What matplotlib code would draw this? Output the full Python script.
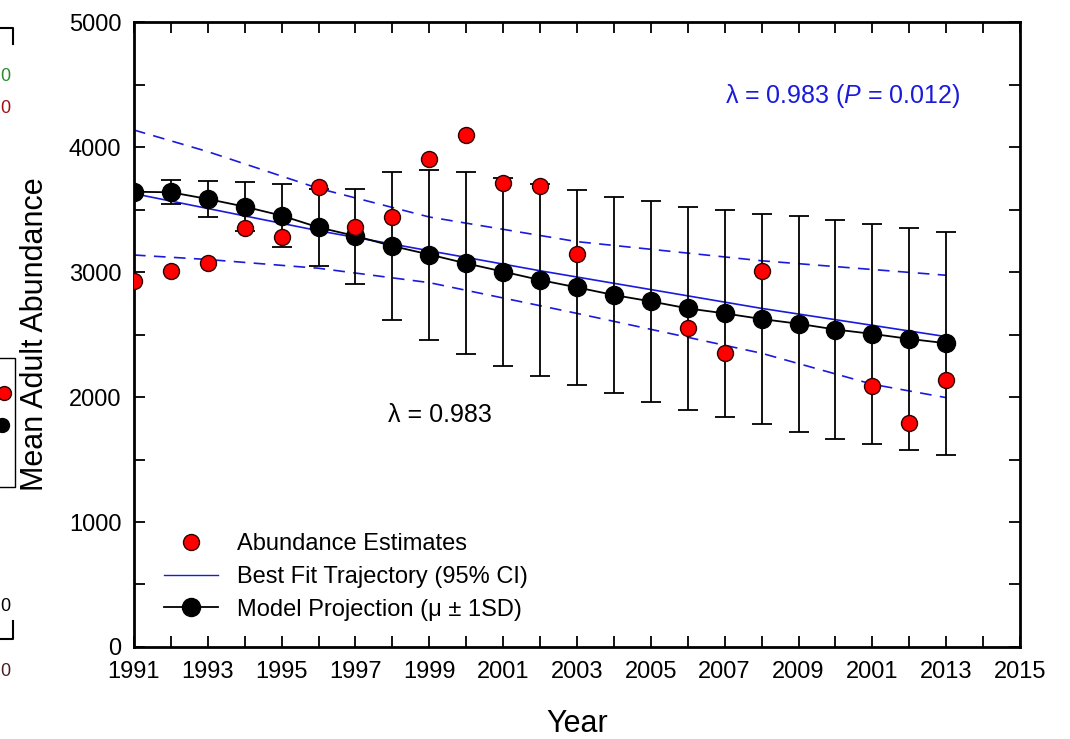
import numpy as np
import matplotlib
matplotlib.use("Agg")
import matplotlib.pyplot as plt
from matplotlib.lines import Line2D
from matplotlib.patches import Rectangle

plt.rcParams['font.family'] = ['Liberation Sans', 'DejaVu Sans']
plt.rcParams['mathtext.fontset'] = 'custom'
plt.rcParams['mathtext.it'] = 'Liberation Sans:italic'
plt.rcParams['mathtext.rm'] = 'Liberation Sans'

years = np.arange(1991, 2014)

# red points (abundance estimates), missing years left out
est_years = [1991, 1992, 1993, 1994, 1995, 1996, 1997, 1998, 1999, 2000, 2001, 2002, 2003,
             2006, 2007, 2008, 2011, 2012, 2013]
est_vals = [2928, 3011, 3069, 3355, 3277, 3683, 3363, 3443, 3907, 4096, 3709, 3688, 3144,
            2555, 2349, 3008, 2088, 1792, 2136]

# model projection mean and 1 SD
model_mean = [3642, 3638, 3584, 3523, 3451, 3357, 3288, 3208, 3140, 3069, 3003, 2936, 2877,
              2816, 2765, 2709, 2669, 2624, 2586, 2540, 2505, 2465, 2430]
model_sd = [0, 96, 145, 195, 250, 306, 380, 595, 680, 728, 752, 768, 780,
            787, 805, 813, 826, 843, 865, 873, 881, 887, 894]

# best fit trajectory and its 95% CI, read at a few years
fit_years = [1991, 1996, 2002, 2008, 2013]
fit_vals = [3627, 3330, 3010, 2709, 2483]
ci_years = [1991, 1993, 1996, 1999, 2003, 2008, 2011, 2013]
ci_upper = [4136, 3963, 3669, 3440, 3243, 3090, 3020, 2974]
ci_lower = [3136, 3100, 3030, 2915, 2669, 2350, 2102, 1995]

xticks = list(range(1991, 2016, 2))
xticklabels = ['1991', '1993', '1995', '1997', '1999', '2001', '2003', '2005', '2007',
               '2009', '2001', '2013', '2015']

blue = '#1a1adc'

fig = plt.figure(figsize=(10.7, 7.39), dpi=100)
ax = fig.add_axes([0.1252, 0.1245, 0.8281, 0.8457])

ax.plot(fit_years, fit_vals, color=blue, lw=1.2, zorder=2)
ax.plot(ci_years, ci_upper, color=blue, lw=1.2, ls=(0, (7, 5)), zorder=2)
ax.plot(ci_years, ci_lower, color=blue, lw=1.2, ls=(0, (7, 5)), zorder=2)

ax.errorbar(years, model_mean, yerr=model_sd, color='black', lw=1.3, elinewidth=1.3,
            capsize=7, capthick=1.3, marker='o', ms=13, mfc='black', mec='black', zorder=3)
ax.plot(est_years, est_vals, 'o', ms=11.5, mfc='#ff0000', mec='#300000', mew=1.0, zorder=4)

ax.set_xlim(1991, 2015)
ax.set_ylim(0, 5000)
ax.set_xticks(xticks)
ax.set_xticklabels(xticklabels)
ax.set_xticks(range(1991, 2016), minor=True)
ax.set_yticks(range(0, 5001, 1000))
ax.set_yticks(range(0, 5001, 500), minor=True)
ax.tick_params(which='both', direction='in', top=True, right=True, length=8, width=1.3,
               labelsize=17)
ax.tick_params(axis='x', pad=10)
ax.tick_params(axis='y', pad=9)
for s in ax.spines.values():
    s.set_linewidth(2)

ax.set_xlabel('Year', fontsize=22, labelpad=19)
ax.set_ylabel('Mean Adult Abundance', fontsize=22, labelpad=14)

ax.text(2007.0, 4405, '\u03bb = 0.983 ($\\mathit{P}$ = 0.012)', color=blue, fontsize=18,
        ha='left', va='center')
ax.text(1999.3, 1860, '\u03bb = 0.983', color='black', fontsize=18, ha='center', va='center')

handles = [
    Line2D([], [], ls='none', marker='o', ms=11.5, mfc='#ff0000', mec='#300000'),
    Line2D([], [], color=blue, lw=1),
    Line2D([], [], color='black', lw=1.3, marker='o', ms=13, mfc='black'),
]
labels = ['Abundance Estimates', 'Best Fit Trajectory (95% CI)', 'Model Projection (\u03bc \u00b1 1SD)']
ax.legend(handles, labels, loc='lower left', bbox_to_anchor=(0.01, 0.008), frameon=False,
          fontsize=17, handlelength=2.3, handletextpad=0.8, labelspacing=0.45)

# fragments of the neighbouring panel at the left edge
fig.text(0.0, 0.897, '0', color='#2e8b2e', fontsize=13, va='center')
fig.text(0.0, 0.853, '0', color='#a01010', fontsize=13, va='center')
fig.add_artist(Line2D([0, 0.012, 0.012], [0.962, 0.962, 0.94], color='black', lw=1.5,
                      transform=fig.transFigure))
fig.add_artist(Rectangle((-0.01, 0.341), 0.024, 0.175, fill=False, ec='black', lw=1,
                         transform=fig.transFigure))
fig.add_artist(Line2D([0.004], [0.468], marker='o', ms=10, mfc='#ff0000', mec='#300000',
                      transform=fig.transFigure))
fig.add_artist(Line2D([0.002], [0.425], marker='o', ms=10, mfc='black', mec='black',
                      transform=fig.transFigure))
fig.text(0.0, 0.179, '0', color='black', fontsize=13, va='center')
fig.add_artist(Line2D([0, 0.012, 0.012], [0.135, 0.135, 0.16], color='black', lw=1.5,
                      transform=fig.transFigure))
fig.text(0.0, 0.092, '0', color='#4a2020', fontsize=13, va='center')

fig.savefig('out.png', dpi=100)
